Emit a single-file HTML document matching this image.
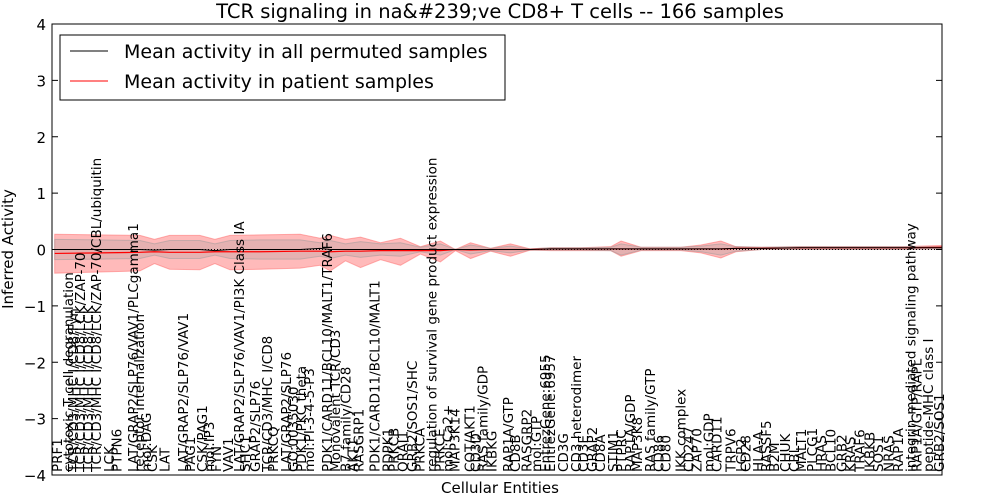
<!DOCTYPE html>
<html><head><meta charset="utf-8"><style>
html,body{margin:0;padding:0;background:#fff}
svg{display:block;font-family:"DejaVu Sans","Liberation Sans",sans-serif}
</style></head><body>
<svg id="chart" width="1000" height="500" xmlns="http://www.w3.org/2000/svg">
<rect x="0" y="0" width="1000" height="500" fill="#fff"/>
<text x="500" y="18" font-size="19.5" text-anchor="middle">TCR signaling in na&amp;#239;ve CD8+ T cells -- 166 samples</text>
<g id="bands"></g><g id="lines"></g>
<rect x="52" y="24" width="890" height="451" fill="none" stroke="#000" stroke-width="1"/>
<g id="yaxis"></g><g id="xlabels"></g>
<text x="13" y="249" font-size="15" text-anchor="middle" transform="rotate(-90 13 249)">Inferred Activity</text>
<text x="500" y="493" font-size="15" text-anchor="middle">Cellular Entities</text>
<g>
<rect x="60" y="35" width="445" height="65" fill="#fff" stroke="#000" stroke-width="1"/>
<line x1="70" y1="51" x2="108" y2="51" stroke="#000" stroke-width="1"/>
<text x="124" y="58" font-size="19">Mean activity in all permuted samples</text>
<line x1="70" y1="81" x2="108" y2="81" stroke="#f00" stroke-width="1"/>
<text x="124" y="88" font-size="19">Mean activity in patient samples</text>
</g>
</svg>
<script>
const yTicks=[4,3,2,1,0,-1,-2,-3,-4];
const knotIdx=[0.5,8.8,16.3,19,21.8,27.4,30.2,33,38.6,46,49.7,51.6,54.4,57.2,60.9,64.6,68.3,72,74.8,77.6,81.3,85,88.7,92.5,98,103.6,105.5,109.2,116.6,120.3,124,126.8,131.5,138.9,157.5,164.9];
const patientMean=[-.07,-.06,-.05,-.04,-.05,-.05,-.04,-.04,-.04,-.03,-.03,-.04,-.03,-.03,-.02,-.02,-.02,-.02,0,-.01,0,0,0,.01,.01,.01,.01,.01,.01,.01,.01,.02,.02,.03,.03,.04];
const patientHi=[.27,.26,.25,.18,.25,.25,.18,.25,.26,.27,.2,.25,.18,.22,.12,.2,.05,.15,0,.12,.02,.1,.01,.03,.03,.05,.15,.04,.04,.08,.15,.05,.04,.05,.05,.07];
const patientLo=[-.42,-.4,-.38,-.25,-.35,-.36,-.25,-.36,-.35,-.33,-.28,-.38,-.2,-.32,-.18,-.28,-.08,-.22,-.02,-.16,-.03,-.12,-.01,-.02,-.02,-.02,-.12,-.02,-.02,-.06,-.15,-.04,0,0,0,.01];
const permMean=[0,0,0,-.01,0,0,-.02,0,0,0,.02,0,0,0,0,0,0,0,0,0,0,0,0,.01,.01,.01,.01,.01,.01,.01,.01,.02,.02,.03,.03,.03];
const permHi=[.18,.17,.16,.1,.16,.16,.1,.16,.17,.17,.12,.16,.1,.14,.1,.12,.04,.1,0,.08,.02,.06,.01,.03,.03,.04,.1,.04,.04,.06,.1,.05,.04,.05,.05,.05];
const permLo=[-.18,-.17,-.16,-.1,-.16,-.16,-.1,-.16,-.17,-.17,-.12,-.16,-.1,-.14,-.1,-.12,-.04,-.1,0,-.08,-.02,-.06,-.01,-.01,-.01,-.02,-.1,-.01,-.01,-.04,-.1,-.03,0,0,0,.01];
const entityNames=["PRF1","cytotoxic T cell degranulation","TCR/CD3/MHC I/CD8/Fyn","TCR/CD3/MHC I/CD8/LCK/ZAP-70","TCR/CD3/MHC I/CD8/LCK","TCR/CD3/MHC I/CD8/LCK/ZAP-70/CBL/ubiquitin","LCK","PTPN6","LAT/GRAP2/SLP76/VAV1/PLCgamma1","receptor internalization","mol:DAG","CSK","LAT","LAT/GRAP2/SLP76/VAV1","PAG1","CSK/PAG1","mol:IP3","FYN","VAV1","LAT/GRAP2/SLP76/VAV1/PI3K Class IA","SHC1","GRAP2/SLP76","TCR/CD3/MHC I/CD8","PRKCQ","LAT/GRAP2/SLP76","GO:0035030","PDK1/PKC theta","mol:PI-3-4-5-P3","PDK1/CARD11/BCL10/MALT1/TRAF6","Monovalent TCR/CD3","B7 family/CD28","AKT1","RASGRP1","PDK1/CARD11/BCL10/MALT1","PDPK1","PRKCB","ORAI1","GRB2/SOS1/SHC","PRKCA","regulation of survival gene product expression","PRKCE","mol:Ca2+","MAP3K14","COT/AKT1","CD3D","RAS family/GDP","IKBKG","RAP1A/GTP","CD8B","RASGRP2","mol:GTP","EntrezGene:6955","EntrezGene:6957","CD3G","CD3 heterodimer","CD3E","GRAP2","CD8A","STIM1","PTPRC","RAP1A/GDP","MAP3K8","RAS family/GTP","CD86","CD80","IKK complex","CD247","ZAP70","mol:GDP","CARD11","TRPV6","LCP2","CD28","HLA-A","RASSF5","B2M","CHUK","CBL","MALT1","PLCG1","HRAS","BCL10","GRB2","KRAS","TRAF6","IKBKB","SOS1","NRAS","RAP1A","integrin-mediated signaling pathway","RAP1A/GTP/RAPL","peptide-MHC class I","GRB2/SOS1"];
const entityIdx=[0.9,3,3.9,5.2,6.7,8.2,10.6,12,15,16.1,17.4,18.5,20.9,24.3,25.6,27.8,29.1,30.4,32.6,34.7,35.8,37.6,39.9,41,43.4,44.7,46.2,47.6,51,52.5,54.4,55.7,56.8,59.8,62.2,63.3,65,66.7,68.1,70.4,71.8,73.3,74.6,77.4,78.5,79.8,81.5,84.5,85.8,88,89.7,91.4,92.3,94.7,97.1,98.4,100.1,101.6,104,105.5,107.2,108.5,110.9,112.4,113.7,116.5,118,119.5,121.7,123.2,125.8,127.7,128.6,130.9,132.4,133.9,135.9,137.6,138.9,140.9,142.6,144.3,146.4,147.9,149.7,151.6,153.1,155.1,156.8,159.2,160.3,162.4,164.4];
const SVGNS="http://www.w3.org/2000/svg";
const X0=52,X1=942,Y0=24,Y1=475;
const xs=i=>X0+(i/165)*(X1-X0);
const ys=v=>Y1-(v+4)/8*(Y1-Y0);
function mk(t,a){const e=document.createElementNS(SVGNS,t);for(const k in a)e.setAttribute(k,a[k]);return e;}
const bands=document.getElementById('bands'),lines=document.getElementById('lines');
function band(hi,lo,fill,op){let d="M"+knotIdx.map((k,i)=>xs(k)+","+ys(hi[i])).join("L");for(let i=knotIdx.length-1;i>=0;i--)d+="L"+xs(knotIdx[i])+","+ys(lo[i]);return mk('path',{d:d+"Z",fill:fill,'fill-opacity':op,stroke:fill,'stroke-opacity':0.5,'stroke-width':1});}
const pb=band(patientHi,patientLo,"#f66",0.45);


bands.appendChild(pb);
const gb=band(permHi,permLo,"#999",0.25);


bands.appendChild(gb);
const zl=mk('line',{x1:X0,x2:X1,y1:ys(0),y2:ys(0),stroke:"#000",'stroke-dasharray':"1,2",'stroke-width':1});


lines.appendChild(zl);
const rl=mk('polyline',{points:knotIdx.map((k,i)=>xs(k)+","+ys(patientMean[i])).join(" "),fill:"none",stroke:"#f00",'stroke-width':1.2});


lines.appendChild(rl);
const pl=mk('polyline',{points:knotIdx.map((k,i)=>xs(k)+","+ys(permMean[i])).join(" "),fill:"none",stroke:"#000",'stroke-width':1});


lines.appendChild(pl);
const ya=document.getElementById('yaxis');
yTicks.forEach(v=>{const y=ys(v);
ya.appendChild(mk('line',{x1:X0,x2:X0+6,y1:y,y2:y,stroke:"#000"}));
ya.appendChild(mk('line',{x1:X1-6,x2:X1,y1:y,y2:y,stroke:"#000"}));
const t=mk('text',{x:X0-6,y:y+6,'font-size':15,'text-anchor':'end'});t.textContent=(v<0?"\u2212"+(-v):v);


ya.appendChild(t);});
const xl=document.getElementById('xlabels');
entityNames.forEach((n,i)=>{const x=xs(entityIdx[i])+5,y=Y1-3;
const t=mk('text',{x:x,y:y,'font-size':13.5,transform:`rotate(-90 ${x} ${y})`});t.textContent=n;


xl.appendChild(t);});
</script>
</body></html>
